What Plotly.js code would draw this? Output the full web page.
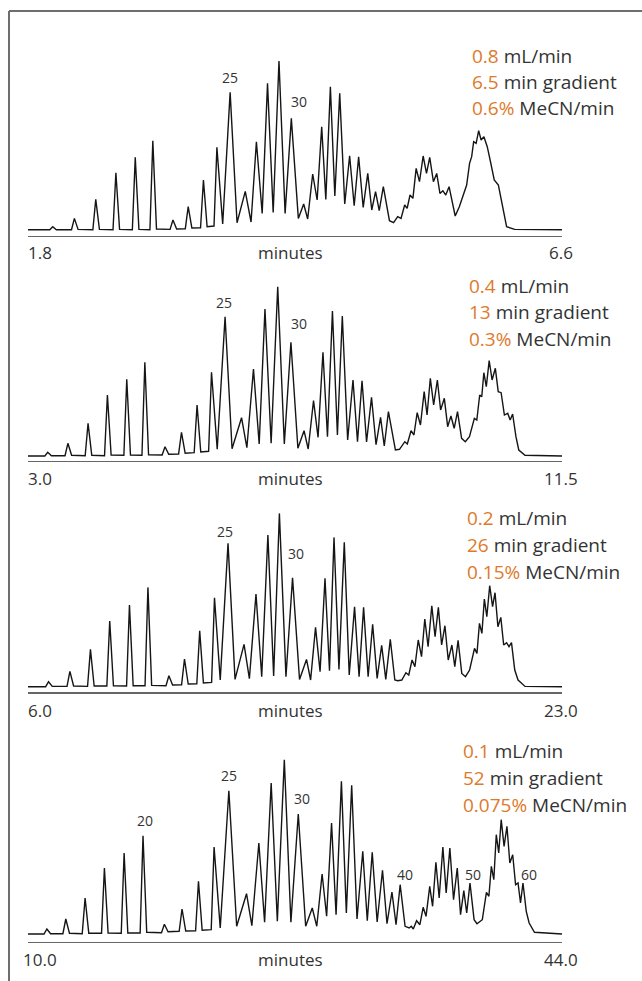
<!DOCTYPE html>
<html>
<head>
<meta charset="utf-8">
<script src="https://cdn.plot.ly/plotly-3.0.1.min.js"></script>
<style>
  html, body { margin: 0; padding: 0; background: #fff; }
  #chart { width: 642px; height: 981px; }
</style>
</head>
<body>
<div id="chart"></div>
<script>
// ---------------- DATA ----------------
// Panel 1: 0.8 mL/min
const t1 = [1.800,1.996,2.022,2.055,2.191,2.217,2.250,2.383,2.409,2.442,2.564,2.590,2.623,2.738,2.764,2.797,2.896,2.922,2.955,3.077,3.103,3.136,3.214,3.240,3.273,3.351,3.377,3.410,3.472,3.498,3.550,3.617,3.679,3.753,3.805,3.853,3.905,3.953,4.004,4.056,4.111,4.167,4.230,4.278,4.314,4.359,4.399,4.440,4.477,4.518,4.558,4.602,4.647,4.691,4.732,4.772,4.813,4.854,4.890,4.924,4.957,4.994,5.049,5.086,5.123,5.153,5.186,5.208,5.234,5.260,5.289,5.319,5.352,5.382,5.411,5.444,5.474,5.503,5.529,5.555,5.585,5.640,5.677,5.714,5.743,5.769,5.788,5.806,5.828,5.851,5.873,5.898,5.928,5.954,5.991,6.028,6.065,6.102,6.175,6.600];
const y1 = [0,0,3,0,0,11.3,0.3,0,30.3,0.3,0,57,0.3,0,72.3,0.3,0,89,0.7,0.3,9.7,0.7,1,23,1.7,2,49.7,3,3.7,82.3,5.7,137.3,7,38.3,7.7,88,16.3,146.3,17.3,168.7,16.3,111.3,11.3,25.7,10.7,55.7,29.7,103,30.3,143,33.7,136.3,25.7,74,24,73,22.3,56.3,19.7,38,19,43,9,7,13,11.3,24.7,21.3,34.7,31.3,61.3,48,73.7,56.3,72.3,48,56.3,36.3,39,34.7,43,13.7,23,36.3,44.7,66.3,73,88,86.3,99,89.7,93,83,69.7,49.7,44.7,23,3,0.3,0];

// Panel 2: 0.4 mL/min
const t2 = [3.000,3.268,3.314,3.373,3.589,3.635,3.694,3.910,3.956,4.015,4.218,4.264,4.323,4.526,4.572,4.631,4.814,4.860,4.919,5.135,5.181,5.240,5.397,5.443,5.502,5.645,5.691,5.750,5.875,5.921,6.012,6.137,6.248,6.399,6.484,6.589,6.680,6.772,6.870,6.975,7.080,7.185,7.296,7.394,7.460,7.545,7.617,7.695,7.767,7.846,7.925,8.003,8.088,8.173,8.245,8.317,8.389,8.468,8.540,8.612,8.671,8.737,8.848,8.913,8.998,9.038,9.097,9.143,9.195,9.247,9.306,9.352,9.404,9.457,9.516,9.568,9.627,9.680,9.732,9.784,9.837,9.902,9.961,10.027,10.105,10.144,10.190,10.223,10.256,10.295,10.341,10.387,10.439,10.485,10.531,10.583,10.636,10.675,10.714,10.767,10.812,10.911,11.500];
const y2 = [0,0,3.7,0.3,0.3,12.7,0.7,0.3,32.7,0.7,0.3,61,1,0.7,76.7,1,0.7,93.7,1.3,1,9.3,1.7,2,23.7,2.7,3.3,51,4,4.7,83.7,6.7,139.3,7.3,38.3,8.3,87,12,147,12.7,169.3,12,113.7,7.7,25.3,7,55.3,18.7,103.7,19.3,145,21,140,16,76,14.3,75.3,14,58.7,11.3,38.7,10,44.3,6,6.7,14.3,12,25.3,21,43.3,31,64.3,41,77.7,51,76,46,57.7,29.3,40,27.7,44.3,17.7,14.3,19.3,37.7,36,61,59.3,83.3,69.3,95.3,76,87.7,64.3,63.3,41,42.7,36,42,19.3,6,0.7,0];

// Panel 3: 0.2 mL/min
const t3 = [6.000,6.562,6.654,6.772,7.242,7.334,7.452,7.896,7.988,8.106,8.510,8.602,8.720,9.138,9.230,9.348,9.726,9.818,9.936,10.393,10.485,10.603,10.890,10.982,11.100,11.374,11.466,11.584,11.845,11.937,12.120,12.368,12.591,12.878,13.048,13.258,13.441,13.637,13.820,14.003,14.212,14.422,14.644,14.866,14.997,15.154,15.298,15.455,15.598,15.742,15.899,16.069,16.226,16.396,16.540,16.684,16.828,16.972,17.115,17.259,17.390,17.534,17.678,17.769,17.900,18.031,18.122,18.227,18.318,18.423,18.528,18.632,18.737,18.855,18.959,19.064,19.168,19.273,19.378,19.495,19.587,19.692,19.809,19.927,20.058,20.215,20.293,20.372,20.450,20.528,20.607,20.698,20.790,20.868,20.960,21.052,21.143,21.235,21.313,21.392,21.496,21.601,21.823,23.000];
const y3 = [0,0,5,0.3,0.3,15.3,0.7,0.3,37.3,0.7,0.7,65.7,1,0.7,81.7,1,1,99.3,1.3,1,11,1.7,2,27.7,2.7,3,56,3.7,4.3,89,6.7,143.3,7.3,42.3,8,92.7,10,151.7,10.7,173.3,10,109,7.3,27.3,6.7,59.3,15,108.3,16,149.3,17.3,144.3,11.7,80,10,79.3,10,62.3,8.3,41.3,7.3,47.3,6.7,6,6.7,14,11.7,26.7,20,46.7,30,67.7,40,81,50,79.3,41.7,61,26.7,41.7,20,46.3,13.3,10,16.7,38.3,33.3,63.3,53.3,87.7,70,101,80,94,60,69.3,41.7,44,40,44,16.7,6.7,0.3,0];

// Panel 4: 0.1 mL/min
const t4 = [10.000,11.020,11.203,11.438,12.223,12.406,12.641,13.452,13.635,13.870,14.682,14.865,15.100,15.937,16.120,16.355,17.140,17.323,17.558,18.500,18.683,18.918,19.625,19.808,20.043,20.671,20.854,21.089,21.665,21.848,22.240,22.789,23.286,23.914,24.254,24.698,25.065,25.483,25.875,26.320,26.738,27.209,27.680,28.098,28.386,28.726,29.014,29.328,29.615,29.955,30.269,30.609,30.949,31.315,31.603,31.917,32.231,32.571,32.858,33.172,33.434,33.695,34.009,34.271,34.402,34.532,34.742,34.951,35.160,35.343,35.578,35.761,35.971,36.180,36.415,36.625,36.860,37.095,37.331,37.540,37.749,37.932,38.142,38.403,38.586,38.769,38.926,39.188,39.345,39.502,39.658,39.815,39.972,40.129,40.312,40.495,40.678,40.862,41.045,41.202,41.358,41.515,41.725,41.908,42.248,44.000];
const y4 = [0,0,5,0.3,0.3,15,0.7,0.3,36,0.7,0.7,66,1,0.7,81,1,1,98.3,1.7,1.3,9.7,2.3,2.7,25,3,3.3,52.7,3.7,4.3,87,6,143.3,7.7,40.3,8.3,91,11.7,151,12.7,174.3,11.7,120,7.7,26,7.7,60,17.7,111,19.3,152.7,21,148.7,15,82.7,13.3,81.7,12,63.7,10.3,42,9.3,49.3,7.7,6,7.7,5,13.3,9.3,26.7,17.7,47.7,27.7,71.7,36,87,41,86,34.3,66,19.3,43.3,21,51,14.3,10.3,12.7,14.3,41.7,37.7,67.7,54.3,99.3,81,114.3,87.7,107.7,71,79.3,49.3,51,31,51,22.7,11,1.7,0];

// Axis limits and their labels
const axisMin = [1.8, 3.0, 6.0, 10.0];
const axisMax = [6.6, 11.5, 23.0, 44.0];
const minLabels = ["1.8", "3.0", "6.0", "10.0"];
const maxLabels = ["6.6", "11.5", "23.0", "44.0"];
const axisTitle = "minutes";

// Run conditions
const flowRate = ["0.8", "0.4", "0.2", "0.1"];
const gradientTime = ["6.5", "13", "26", "52"];
const mecnRate = ["0.6%", "0.3%", "0.15%", "0.075%"];

// Peak number labels: panel, label, time (min), signal
const peakLabelPanel = [0, 0, 1, 1, 2, 2, 3, 3, 3, 3, 3, 3];
const peakLabelText  = ["25", "30", "25", "30", "25", "30", "20", "25", "30", "40", "50", "60"];
const peakLabelTime  = [3.617, 4.237, 6.124, 7.316, 12.277, 14.526, 17.428, 22.815, 27.418, 33.983, 38.325, 41.908];
const peakLabelY     = [151.7, 127.7, 153, 132.7, 155, 133.4, 113.3, 159, 135.7, 60, 60, 59.7];

const series = [[t1, y1], [t2, y2], [t3, y3], [t4, y4]];

// ---------------- LAYOUT ----------------
const W = 642, H = 981;
const fx = p => p / W;
const fy = p => 1 - p / H;
const ORANGE = "#dd7a2b";
const DARK = "#333333";
const FONT = "Open Sans, Noto Sans, sans-serif";

const geom = [
  { axis: 235.5, top: 49.7, yr: [-5.8, 180], tickY: 252, condY: [56, 82, 108], condX: 470 },
  { axis: 460.7, top: 276,  yr: [-4.7, 180], tickY: 478, condY: [286, 312, 339], condX: 467 },
  { axis: 692,   top: 506.7, yr: [-5.3, 180], tickY: 710, condY: [518, 545, 572], condX: 465 },
  { axis: 941.7, top: 754,  yr: [-7.7, 180], tickY: 959, condY: [751, 778, 805], condX: 461 }
];
const xLeft = 28, xRight = 562;

const data = [];
const layout = {
  width: W, height: H,
  margin: { l: 0, r: 0, t: 0, b: 0 },
  paper_bgcolor: "#ffffff",
  plot_bgcolor: "rgba(0,0,0,0)",
  showlegend: false,
  annotations: [],
  shapes: [
    { type: "line", xref: "paper", yref: "paper", x0: fx(9), x1: 1, y0: fy(11), y1: fy(11),
      line: { color: "#6e6e6e", width: 2 } },
    { type: "line", xref: "paper", yref: "paper", x0: fx(9), x1: fx(9), y0: fy(11), y1: 0,
      line: { color: "#6e6e6e", width: 2 } }
  ]
};

series.forEach((s, i) => {
  const n = i === 0 ? "" : String(i + 1);
  const g = geom[i];
  data.push({
    type: "scatter", mode: "lines",
    x: s[0], y: s[1],
    xaxis: "x" + n, yaxis: "y" + n,
    line: { color: "#151515", width: 1.4 },
    hoverinfo: "skip"
  });
  layout["xaxis" + n] = {
    domain: [fx(xLeft), fx(xRight)],
    anchor: "y" + n,
    range: [axisMin[i], axisMax[i]],
    showline: true, linecolor: "#666666", linewidth: 1.6,
    showgrid: false, zeroline: false, ticks: "", showticklabels: false,
    fixedrange: true
  };
  layout["yaxis" + n] = {
    domain: [fy(g.axis), fy(g.top)],
    anchor: "x" + n,
    range: g.yr,
    visible: false, fixedrange: true
  };
  const tickFont = { family: FONT, size: 17, color: DARK };
  layout.annotations.push(
    { xref: "paper", yref: "paper", x: fx(40), y: fy(g.tickY), text: minLabels[i],
      showarrow: false, xanchor: "center", yanchor: "middle", font: tickFont },
    { xref: "paper", yref: "paper", x: fx(561), y: fy(g.tickY), text: maxLabels[i],
      showarrow: false, xanchor: "center", yanchor: "middle", font: tickFont },
    { xref: "paper", yref: "paper", x: fx(290), y: fy(g.tickY), text: axisTitle,
      showarrow: false, xanchor: "center", yanchor: "middle", font: tickFont }
  );
  const lines = [
    `<span style="color:${ORANGE}">${flowRate[i]}</span> mL/min`,
    `<span style="color:${ORANGE}">${gradientTime[i]}</span> min gradient`,
    `<span style="color:${ORANGE}">${mecnRate[i]}</span> MeCN/min`
  ];
  lines.forEach((txt, k) => {
    layout.annotations.push({
      xref: "paper", yref: "paper", x: fx(g.condX), y: fy(g.condY[k]), text: txt,
      showarrow: false, xanchor: "left", yanchor: "middle",
      font: { family: FONT, size: 19, color: DARK }
    });
  });
});

peakLabelText.forEach((txt, j) => {
  const p = peakLabelPanel[j];
  const n = p === 0 ? "" : String(p + 1);
  layout.annotations.push({
    xref: "x" + n, yref: "y" + n, x: peakLabelTime[j], y: peakLabelY[j], text: txt,
    showarrow: false, xanchor: "center", yanchor: "middle",
    font: { family: FONT, size: 14, color: DARK }
  });
});

Plotly.newPlot("chart", data, layout, { staticPlot: true, displayModeBar: false });
</script>
</body>
</html>
